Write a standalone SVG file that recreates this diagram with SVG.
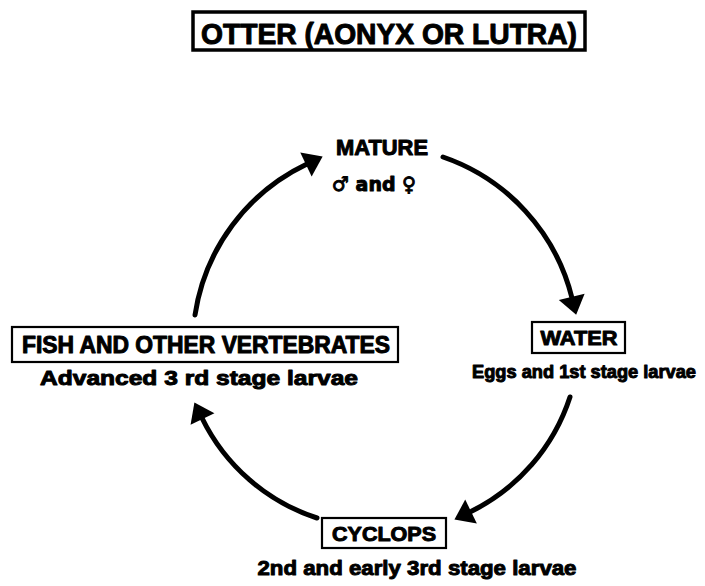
<svg xmlns="http://www.w3.org/2000/svg" width="705" height="586" viewBox="0 0 705 586">
<style>
text{font-family:"Liberation Sans",Arial,sans-serif;font-weight:bold;fill:#000;stroke:#000;stroke-width:1;stroke-linejoin:round;text-anchor:middle}
.box{fill:none;stroke:#000;stroke-width:2.2}
.arc{fill:none;stroke:#000;stroke-width:5;stroke-linecap:round}
</style>
<defs>
<marker id="ah" markerUnits="userSpaceOnUse" markerWidth="30" markerHeight="30" viewBox="-2 -13 22 26" refX="1" refY="0" orient="auto">
<path d="M0,-11.5 L16,0 L0,11.5 Z" fill="#000"/>
</marker>
</defs>
<rect width="705" height="586" fill="#fff"/>
<g id="title">
<rect x="193" y="12" width="392" height="38" fill="none" stroke="#000" stroke-width="3.5"/>
<text x="389" y="44" font-size="29" stroke-width="1.3" textLength="376" lengthAdjust="spacingAndGlyphs">OTTER (AONYX OR LUTRA)</text>
</g>
<g id="mature">
<text x="382" y="155" font-size="22" textLength="92" lengthAdjust="spacingAndGlyphs">MATURE</text>
<text x="374" y="191" font-size="20" style="font-family:'DejaVu Sans',sans-serif" textLength="84" lengthAdjust="spacingAndGlyphs">♂ and ♀</text>
</g>
<g id="water">
<rect class="box" x="532" y="322" width="93" height="31"/>
<text x="579" y="345" font-size="21" textLength="77" lengthAdjust="spacingAndGlyphs">WATER</text>
<text x="584" y="378" font-size="18.5" textLength="224" lengthAdjust="spacingAndGlyphs">Eggs and 1st stage larvae</text>
</g>
<g id="cyclops">
<rect class="box" x="322" y="518" width="124" height="30"/>
<text x="384" y="541" font-size="20" textLength="104" lengthAdjust="spacingAndGlyphs">CYCLOPS</text>
<text x="417" y="575" font-size="21" textLength="319" lengthAdjust="spacingAndGlyphs">2nd and early 3rd stage larvae</text>
</g>
<g id="fish">
<rect class="box" x="12" y="327" width="386" height="35"/>
<text x="206" y="353" font-size="23" textLength="368" lengthAdjust="spacingAndGlyphs">FISH AND OTHER VERTEBRATES</text>
<text x="199" y="385" font-size="21" textLength="318" lengthAdjust="spacingAndGlyphs">Advanced 3 rd stage larvae</text>
</g>
<g id="connectors">
<path class="arc" d="M195,315 A200,200 0 0 1 307,164" marker-end="url(#ah)"/>
<path class="arc" d="M443,157 A200,200 0 0 1 572,298" marker-end="url(#ah)"/>
<path class="arc" d="M570,397 A195,195 0 0 1 470,512" marker-end="url(#ah)"/>
<path class="arc" d="M317,518 A195,195 0 0 1 202,418" marker-end="url(#ah)"/>
</g>
</svg>
